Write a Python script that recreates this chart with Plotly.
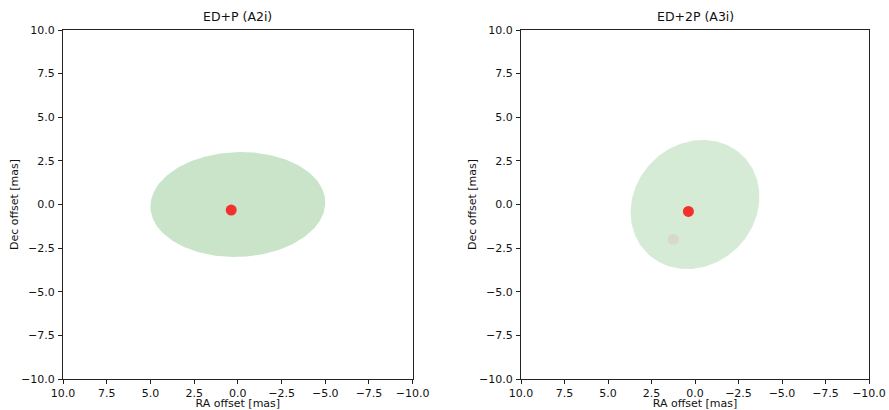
import numpy as np
import plotly.graph_objects as go

# ---- data ----
panel_titles = ["ED+P (A2i)", "ED+2P (A3i)"]
# ellipse parameters per panel: centre RA, centre Dec, semi-major, semi-minor, angle (deg)
ell_ra = [0.0, 0.0]
ell_dec = [0.0, 0.0]
ell_a = [5.0, 3.92]
ell_b = [3.0, 3.47]
ell_ang = [-2.0, -45.0]
ell_colors = ["rgba(0,128,0,0.21)", "rgba(0,128,0,0.16)"]

# primary points (red)
red_ra = [0.38, 0.38]
red_dec = [-0.32, -0.40]
# secondary point (faint) in panel 2
grey_ra = [1.24]
grey_dec = [-2.0]

tick_vals = [10.0, 7.5, 5.0, 2.5, 0.0, -2.5, -5.0, -7.5, -10.0]
tick_text = [("%.1f" % v).replace("-", "\u2212") for v in tick_vals]

x_label = "RA offset [mas]"
y_label = "Dec offset [mas]"

# ---- figure ----
W, H = 889, 410
ml, mr, mt, mb = 63, 20, 30, 31
pw = W - ml - mr
domains = [[0.0, (412.7 - ml) / pw], [(521.0 - ml) / pw, 1.0]]

fig = go.Figure()
t = np.linspace(0, 2 * np.pi, 200)
for i in range(2):
    th = np.deg2rad(ell_ang[i])
    ex = ell_ra[i] + ell_a[i] * np.cos(th) * np.cos(t) - ell_b[i] * np.sin(th) * np.sin(t)
    ey = ell_dec[i] + ell_a[i] * np.sin(th) * np.cos(t) + ell_b[i] * np.cos(th) * np.sin(t)
    xa = "x" if i == 0 else "x2"
    ya = "y" if i == 0 else "y2"
    fig.add_trace(go.Scatter(x=ex, y=ey, mode="lines", fill="toself",
                             fillcolor=ell_colors[i], line=dict(width=0),
                             xaxis=xa, yaxis=ya, hoverinfo="skip", showlegend=False))
    if i == 1:
        fig.add_trace(go.Scatter(x=grey_ra, y=grey_dec, mode="markers",
                                 marker=dict(size=11, color="#d8d9c8", line=dict(width=0)),
                                 xaxis=xa, yaxis=ya, showlegend=False))
    fig.add_trace(go.Scatter(x=[red_ra[i]], y=[red_dec[i]], mode="markers",
                             marker=dict(size=11, color="#f2302c", line=dict(width=0)),
                             xaxis=xa, yaxis=ya, showlegend=False))

font = dict(family="DejaVu Sans", size=11, color="#111111")
axis_common = dict(
    range=[10, -10], tickvals=tick_vals, ticktext=tick_text, ticks="outside",
    ticklen=4, tickwidth=1, tickcolor="#222222", showline=True, linecolor="#222222",
    linewidth=1, mirror=True, showgrid=False, zeroline=False, tickfont=font,
    ticklabeloverflow="allow",
)
yaxis_common = dict(axis_common)
yaxis_common["range"] = [-10, 10]

fig.update_layout(
    width=W, height=H, plot_bgcolor="white", paper_bgcolor="white",
    margin=dict(l=ml, r=mr, t=mt, b=mb, autoexpand=False),
    font=font, showlegend=False,
    xaxis=dict(axis_common, domain=domains[0], anchor="y",
               title=dict(text=x_label, font=font, standoff=3)),
    yaxis=dict(yaxis_common, domain=[0, 1], anchor="x", ticklabelstandoff=1,
               title=dict(text=y_label, font=font, standoff=0)),
    xaxis2=dict(axis_common, domain=domains[1], anchor="y2",
                title=dict(text=x_label, font=font, standoff=3)),
    yaxis2=dict(yaxis_common, domain=[0, 1], anchor="x2", ticklabelstandoff=1,
                title=dict(text=y_label, font=font, standoff=0)),
)
for i in range(2):
    cx = (domains[i][0] + domains[i][1]) / 2
    fig.add_annotation(text=panel_titles[i], x=cx, y=1, xref="paper", yref="paper",
                       xanchor="center", yanchor="bottom", yshift=4, showarrow=False,
                       font=dict(family="DejaVu Sans", size=12.5, color="#111111"))

fig.write_html("out.html", config={"displayModeBar": False},
               post_script="document.body.style.margin='0';")
